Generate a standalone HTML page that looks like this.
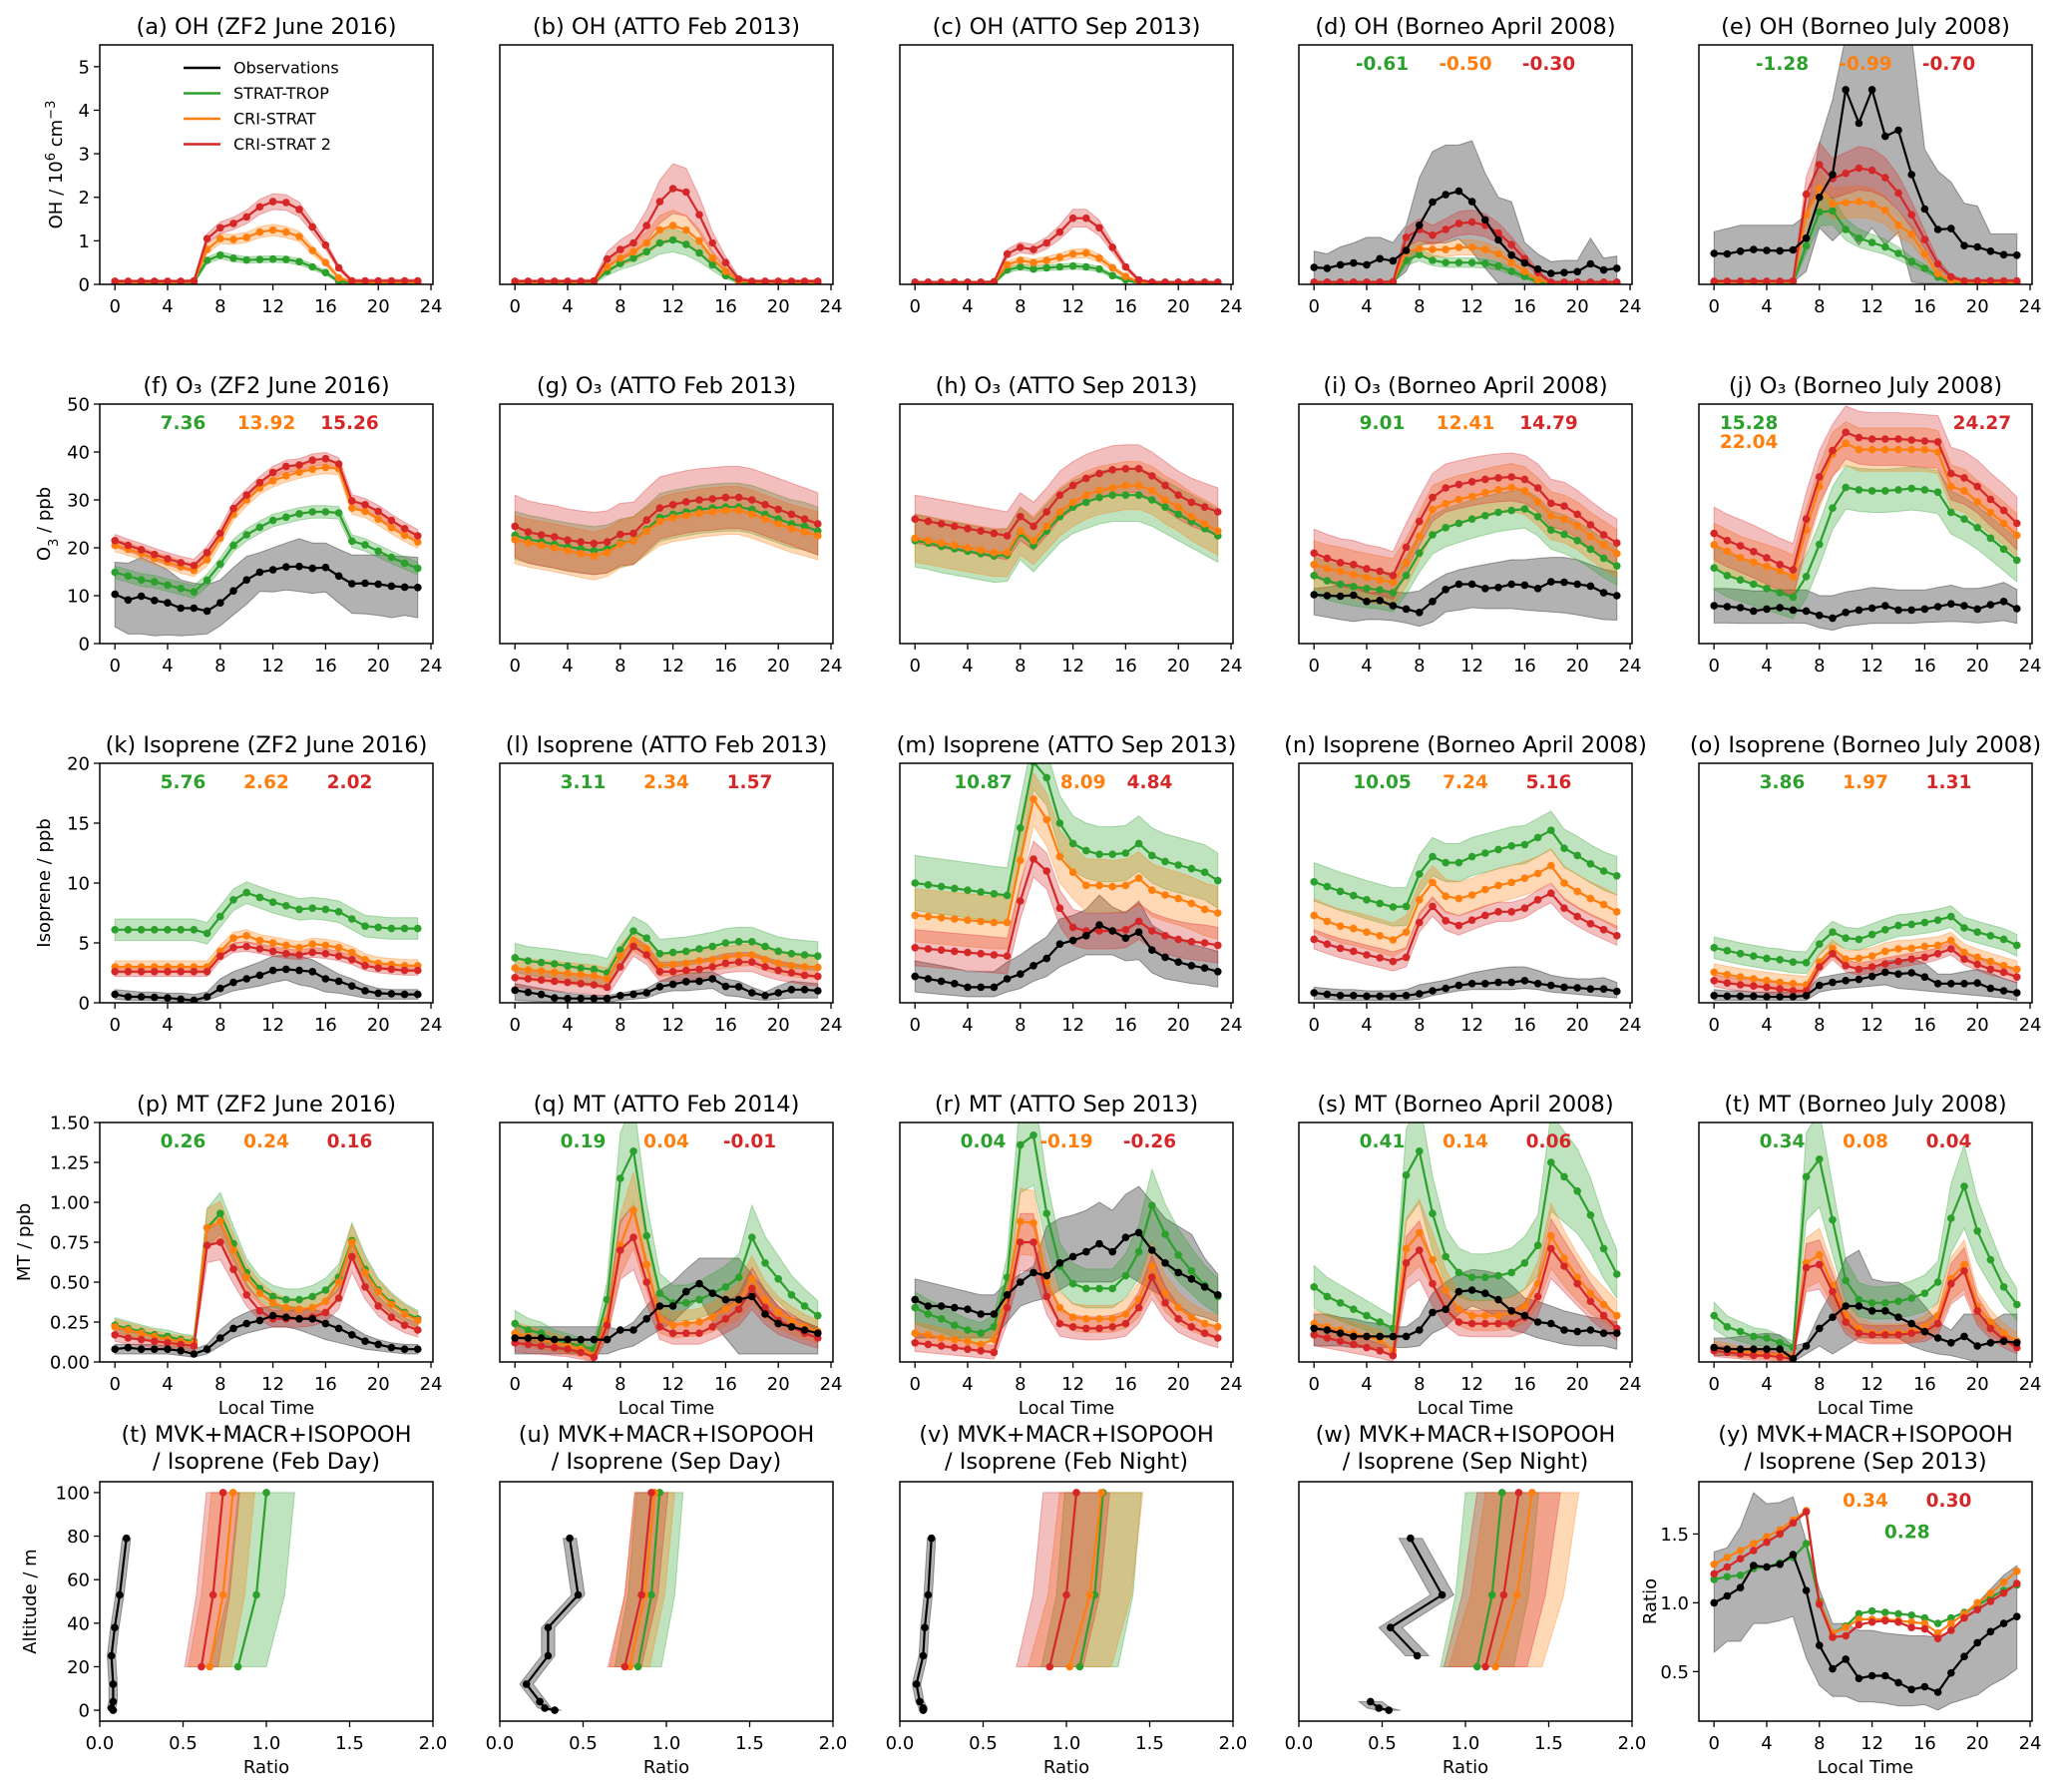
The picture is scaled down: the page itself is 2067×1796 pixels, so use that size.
<!DOCTYPE html>
<html><head><meta charset="utf-8"><title>Diurnal comparison panels</title>
<style>html,body{margin:0;padding:0;background:#fff}svg{display:block}text{font-family:"DejaVu Sans","Liberation Sans",sans-serif}</style>
</head><body>
<svg id="fig" width="2067" height="1796" viewBox="0 0 2067 1796" xmlns="http://www.w3.org/2000/svg"></svg>
<script>
// ---------- data ----------
const HOURS=[0,1,2,3,4,5,6,7,8,9,10,11,12,13,14,15,16,17,18,19,20,21,22,23];
const X_TICKS=[0,4,8,12,16,20,24];
const RATIO_TICKS=[0,0.5,1,1.5,2];
const OH_TICKS=[0,1,2,3,4,5];
const O3_TICKS=[0,10,20,30,40,50];
const ISO_TICKS=[0,5,10,15,20];
const MT_TICKS=[0,0.25,0.5,0.75,1,1.25,1.5];
const ALT_TICKS=[0,20,40,60,80,100];
const YRATIO_TICKS=[0.5,1,1.5];
// OH
const a_G=[0.04,0.04,0.04,0.04,0.04,0.04,0.05,0.55,0.67,0.6,0.56,0.57,0.58,0.57,0.52,0.4,0.27,0.07,0.03,0.03,0.03,0.03,0.03,0.03];
const a_O=[0.05,0.05,0.05,0.05,0.05,0.05,0.06,0.8,1.05,1.03,1.08,1.2,1.25,1.2,1.1,0.78,0.5,0.15,0.05,0.05,0.05,0.05,0.05,0.05];
const a_R=[0.07,0.07,0.07,0.07,0.07,0.07,0.08,1.05,1.3,1.4,1.55,1.78,1.9,1.88,1.72,1.32,0.9,0.38,0.08,0.08,0.08,0.08,0.08,0.08];
const b_G=[0.03,0.03,0.03,0.03,0.03,0.03,0.04,0.3,0.48,0.6,0.75,0.95,1.02,0.92,0.72,0.45,0.2,0.05,0.03,0.03,0.03,0.03,0.03,0.03];
const b_O=[0.05,0.05,0.05,0.05,0.05,0.05,0.06,0.4,0.6,0.75,0.95,1.25,1.35,1.25,1.0,0.6,0.3,0.08,0.05,0.05,0.05,0.05,0.05,0.05];
const b_R=[0.07,0.07,0.07,0.07,0.07,0.07,0.08,0.58,0.8,0.95,1.35,1.9,2.2,2.12,1.6,0.95,0.5,0.12,0.07,0.07,0.07,0.07,0.07,0.07];
const c_G=[0.02,0.02,0.02,0.02,0.02,0.02,0.03,0.33,0.4,0.35,0.38,0.4,0.42,0.4,0.35,0.2,0.1,0.03,0.02,0.02,0.02,0.02,0.02,0.02];
const c_O=[0.04,0.04,0.04,0.04,0.04,0.04,0.05,0.45,0.55,0.5,0.55,0.62,0.7,0.72,0.6,0.38,0.18,0.05,0.04,0.04,0.04,0.04,0.04,0.04];
const c_R=[0.05,0.05,0.05,0.05,0.05,0.05,0.06,0.7,0.85,0.8,0.95,1.2,1.52,1.52,1.3,0.85,0.4,0.1,0.05,0.05,0.05,0.05,0.05,0.05];
const d_K=[0.39,0.37,0.45,0.49,0.45,0.59,0.54,0.78,1.36,1.89,2.06,2.14,1.9,1.48,1.02,0.67,0.49,0.35,0.25,0.27,0.29,0.47,0.33,0.37];
const d_KHi=[0.76,0.7,0.86,0.95,1.08,1.08,0.96,1.36,2.45,3.05,3.2,3.2,3.3,2.55,2.0,1.9,0.96,0.7,0.52,0.55,0.55,1.06,0.6,0.65];
const d_KLo=[0.02,0.02,0.02,0.02,0.02,0.02,0.05,0.3,0.9,0.95,0.95,1.05,0.75,0.37,0.02,0.02,0.02,0.02,0.02,0.02,0.02,0.02,0.02,0.02];
const d_G=[0.02,0.02,0.02,0.02,0.02,0.02,0.03,0.55,0.68,0.55,0.5,0.5,0.5,0.48,0.42,0.3,0.18,0.05,0.02,0.02,0.02,0.02,0.02,0.02];
const d_O=[0.04,0.04,0.04,0.04,0.04,0.04,0.05,0.75,0.82,0.8,0.8,0.85,0.85,0.8,0.7,0.5,0.3,0.1,0.04,0.04,0.04,0.04,0.04,0.04];
const d_R=[0.05,0.05,0.05,0.05,0.05,0.05,0.06,1.08,1.26,1.13,1.26,1.4,1.43,1.36,1.18,0.91,0.59,0.27,0.05,0.05,0.05,0.05,0.05,0.05];
const e_K=[0.71,0.7,0.76,0.8,0.78,0.77,0.79,1.06,2.0,2.52,4.47,3.7,4.47,3.4,3.54,2.52,1.73,1.26,1.28,0.89,0.86,0.76,0.68,0.67];
const e_KHi=[1.21,1.28,1.36,1.36,1.36,1.36,1.36,1.59,3.25,4.24,5.7,5.7,5.7,5.7,5.7,5.7,3.1,2.6,2.35,1.86,1.8,1.16,1.16,1.16];
const e_KLo=[0.05,0.05,0.05,0.05,0.05,0.05,0.05,0.3,1.3,1.0,1.3,0.9,1.3,0.9,1.2,0.05,0.02,0.02,0.02,0.02,0.02,0.02,0.02,0.02];
const e_G=[0.03,0.03,0.03,0.03,0.03,0.03,0.04,0.88,1.66,1.69,1.26,1.06,0.96,0.86,0.71,0.52,0.37,0.17,0.03,0.03,0.03,0.03,0.03,0.03];
const e_O=[0.05,0.05,0.05,0.05,0.05,0.05,0.06,1.6,2.2,1.85,1.88,1.9,1.85,1.7,1.36,1.15,0.7,0.25,0.08,0.05,0.05,0.05,0.05,0.05];
const e_R=[0.07,0.07,0.07,0.07,0.07,0.07,0.08,2.07,2.75,2.43,2.55,2.67,2.62,2.45,2.1,1.6,1.03,0.47,0.17,0.08,0.08,0.08,0.08,0.08];
// O3
const f_K=[10.3,9.1,9.9,9.0,8.5,7.4,7.4,6.8,8.5,11,13.3,14.9,15.4,16,16.1,15.7,15.9,14.1,12.5,12.6,12.4,12.0,11.8,11.7];
const f_KHi=[17,16.8,18,16.8,15.4,13.3,12.6,12.3,13.3,15.9,18.2,19,20,21,21.9,21,21,19.7,18.5,18.5,18.5,18.3,18.2,18];
const f_KLo=[3.5,2,2,1.6,1.8,1.6,1.8,2,3.7,6,8.2,10.9,10.8,11.2,10.9,10.5,10.8,8.5,6.3,6.2,5.9,5.4,5.9,5.4];
const f_G=[14.9,14.1,13.3,12.9,12.2,11.5,10.8,13.2,16.6,20.5,22.7,24.3,25.7,26.4,27.1,27.5,27.5,27.3,21.4,20.6,19.3,18,16.8,15.7];
const f_O=[20.5,19.7,18.8,17.8,17,16,15.3,17.5,22,27,30,32.5,34,35,35.8,36.4,36.8,36.5,28.3,27.6,26,24.2,22.6,21.2];
const f_R=[21.5,20.5,19.6,18.6,17.7,16.9,16.3,19,23,28.2,31,33.6,35.7,37,37.3,38.3,38.6,37.5,29.8,29,27.6,25.7,24,22.5];
const g_G=[22.6,21.8,21.3,20.7,20.2,19.8,19.4,19.8,21,21.5,23.8,26.3,27,27.5,28,28.3,28.5,28.5,28,27,26,25,24.5,23.5];
const g_O=[21.7,21,20.5,20,19.4,18.8,18.3,19,20.8,21.5,23.5,25.5,26.3,26.7,27.2,27.5,27.8,27.8,27,26,25,24,23.3,22.5];
const g_R=[24.5,23.3,22.7,22.3,21.6,21.2,20.9,21.2,22.8,23,25.8,28.3,29,29.6,30,30.2,30.5,30.5,30,29,28,27,26,25];
const h_G=[21.5,21,20.3,19.8,19.3,18.8,18.3,18.5,23,20.5,23.5,26.5,28.5,29.5,30.5,31,31,31,30,28.5,27,25.5,24,22.5];
const h_O=[22,21.5,21,20.5,20,19.5,19,19,23.5,21.5,24.5,27.5,29.5,31,32,32.5,33,33,32,30,28.5,26.5,25,23.5];
const h_R=[26,25.5,25,24.5,24,23.5,23,22.5,26.5,24.5,27.5,31,33,34.5,35.5,36.3,36.5,36.5,35,33,31,29.5,28.5,27.5];
const i_K=[10.2,10.0,9.9,10.1,8.8,9.0,7.9,7.2,6.5,8.8,11.3,12.4,12.4,11.5,11.7,12.4,12.2,11.5,12.9,12.8,12.4,12.0,10.6,10.0];
const i_KHi=[11.5,11.8,12.2,12.5,10.6,10.8,10.8,10.6,11,12.9,14.5,15.4,16,16.5,17,17.5,17.5,17.8,18,18,17.5,16.5,15.5,15];
const i_KLo=[6,5.5,5,4.6,5,5,4.8,4.3,3.6,4.5,6.6,7,7.5,7.3,7.3,7.3,7,6.8,6.6,6.4,6,5.5,5,4.9];
const i_G=[14.2,13.1,12.4,11.9,11.5,11.2,10.6,14.2,18.9,22.7,24.2,25.1,26.0,26.7,27.4,27.8,28.1,26.5,23.7,22.8,21.5,19.7,17.8,16.2];
const i_O=[16.5,15.6,15.1,14.4,13.8,13.3,12.8,16.9,22.4,28.0,29.2,30.1,30.7,31.5,32.1,32.6,31.9,29.6,26.7,26.0,24.6,22.4,20.6,18.8];
const i_R=[18.9,17.8,16.9,16.5,15.6,15.1,14.2,20.1,25.5,30.5,32.5,33.2,33.8,34.3,34.6,34.8,34.3,32.5,29.3,28.7,27.0,24.8,22.7,21.0];
const j_K=[7.9,7.7,7.5,6.8,7.2,7.5,7.0,6.8,5.9,5.3,6.5,7.0,7.4,7.9,7.0,7.0,7.2,7.7,8.3,7.9,7.2,8.1,8.8,7.3];
const j_KHi=[11.5,11.5,11.3,11,11,11.2,11.2,11.2,10,10,10.8,11.2,11.7,11.5,11.2,11.2,11.2,11.7,12.2,11.5,11.5,12,12.8,11.3];
const j_KLo=[4.3,4.3,4.2,4.2,4.2,4.2,4.3,4.2,3.3,2.8,3.6,3.9,4.2,4.2,4.2,4.2,4.4,4.5,4.6,4.5,4.3,4.5,4.8,4.2];
const j_G=[15.8,14.2,13.3,12.4,11.5,10.6,9.7,14.0,20.7,28.3,32.6,32.1,31.9,31.9,32.1,32.4,32.1,31.6,27.4,26.0,24.2,22.0,19.7,17.4];
const j_O=[20.6,19.3,17.9,17.0,16.1,15.2,14.0,23.7,32.8,39.6,41.8,40.5,40.5,40.5,40.5,40.5,40.5,40.0,32.8,31.9,29.6,27.4,25.1,22.6];
const j_R=[23.0,21.5,20.4,19.2,17.9,16.5,15.4,26.0,34.8,40.3,44.1,43.0,42.7,42.7,42.7,42.5,42.3,42.1,35.5,34.6,32.8,30.1,27.8,25.1];
// Isoprene
const k_K=[0.7,0.5,0.5,0.45,0.4,0.3,0.2,0.5,1.2,1.7,2.0,2.3,2.7,2.8,2.7,2.6,2.0,1.8,1.4,1.0,0.8,0.75,0.7,0.7];
const k_KHi=[1.1,1.0,0.9,0.9,0.8,0.8,0.7,0.9,2.0,2.6,3.0,3.4,3.9,4.0,3.9,3.6,3.0,2.4,2.0,1.5,1.2,1.1,1.1,1.1];
const k_KLo=[0.3,0.2,0.2,0.2,0.1,0.1,0.05,0.2,0.6,1.0,1.2,1.4,1.7,1.9,1.5,1.3,0.9,0.8,0.6,0.4,0.3,0.3,0.3,0.3];
const k_G=[6.1,6.1,6.1,6.1,6.1,6.1,6.1,5.8,7.2,8.6,9.2,8.8,8.4,8.1,7.8,7.9,7.8,7.6,7.0,6.4,6.3,6.2,6.2,6.2];
const k_O=[3.0,3.0,3.0,3.0,3.0,3.0,3.0,3.0,4.3,5.4,5.6,5.2,5.0,4.8,4.6,4.9,4.8,4.6,4.2,3.6,3.3,3.2,3.1,3.1];
const k_R=[2.6,2.6,2.6,2.6,2.6,2.6,2.6,2.6,3.9,4.6,4.7,4.5,4.3,4.1,4.0,4.2,4.1,3.9,3.6,3.1,2.9,2.8,2.7,2.7];
const l_K=[1.05,0.87,0.69,0.4,0.36,0.36,0.36,0.36,0.6,0.72,0.83,1.34,1.55,1.77,1.8,2.0,1.37,1.34,0.83,0.6,0.83,1.1,1.1,1.0];
const l_KHi=[1.6,1.4,1.2,1.0,0.8,0.7,0.6,0.6,0.8,1.0,1.2,1.8,2.2,2.5,2.5,2.6,2.0,1.8,1.3,0.9,1.4,1.8,1.7,1.6];
const l_KLo=[0.2,0.15,0.1,0.05,0.05,0.05,0.05,0.05,0.2,0.3,0.4,0.8,1.0,1.0,1.1,1.2,0.6,0.5,0.3,0.2,0.3,0.4,0.4,0.4];
const l_G=[3.76,3.5,3.36,3.25,3.07,2.89,2.78,2.5,4.4,6.0,5.4,4.1,4.2,4.3,4.5,4.7,5.0,5.1,5.1,4.7,4.3,4.1,4.0,3.9];
const l_O=[2.9,2.75,2.65,2.55,2.45,2.35,2.25,2.0,3.9,5.2,4.5,3.1,3.2,3.3,3.5,3.6,3.8,3.95,4.0,3.6,3.3,3.1,3.0,2.95];
const l_R=[2.1,2.0,1.9,1.8,1.7,1.6,1.5,1.3,3.0,4.7,4.0,2.6,2.6,2.7,2.8,3.0,3.3,3.4,3.4,3.0,2.7,2.5,2.3,2.2];
const m_K=[2.2,2.0,1.8,1.6,1.3,1.3,1.3,2.0,2.4,3.1,3.7,4.9,5.2,5.6,6.5,6.0,5.4,5.9,4.4,3.8,3.4,3.1,2.9,2.6];
const m_KHi=[3.5,3.3,3.1,2.9,2.6,2.6,2.6,3.4,4.0,4.8,5.5,7.0,7.3,7.8,9.0,8.0,7.5,8.5,6.5,5.8,5.3,4.9,4.6,4.3];
const m_KLo=[0.9,0.8,0.7,0.6,0.5,0.5,0.5,0.9,1.2,1.8,2.2,3.0,3.5,4.0,4.0,4.0,3.5,3.6,2.5,2.0,1.8,1.6,1.5,1.3];
const m_G=[10.0,9.85,9.7,9.55,9.4,9.25,9.1,8.97,14.6,20.1,18.8,15.0,13.3,12.7,12.4,12.4,12.5,13.3,12.3,11.8,11.5,11.2,10.9,10.2];
const m_O=[7.3,7.2,7.1,7.0,6.9,6.8,6.7,6.7,11.9,17.0,15.3,12.2,10.9,9.8,9.8,9.7,9.8,10.4,9.4,9.0,8.7,8.3,7.8,7.5];
const m_R=[4.6,4.5,4.4,4.3,4.2,4.1,4.0,3.9,8.5,12.0,11.0,7.9,6.3,6.0,6.0,6.0,6.1,6.8,6.0,5.6,5.3,5.1,5.0,4.8];
const n_K=[0.83,0.7,0.6,0.6,0.55,0.55,0.55,0.6,0.75,1.0,1.2,1.45,1.6,1.6,1.7,1.7,1.85,1.6,1.45,1.3,1.25,1.15,1.15,0.95];
const n_KHi=[1.3,1.2,1.1,1.1,1.0,1.0,1.0,1.1,1.5,1.7,1.9,2.2,2.5,2.7,2.9,3.0,3.0,2.7,2.3,2.1,2.0,2.0,2.1,1.7];
const n_KLo=[0.3,0.3,0.2,0.2,0.2,0.2,0.2,0.2,0.3,0.6,0.8,1.0,1.1,1.1,1.1,1.1,1.2,1.1,0.9,0.8,0.7,0.6,0.5,0.4];
const n_G=[10.1,9.7,9.3,8.95,8.6,8.3,8.0,8.05,10.75,12.2,11.7,11.7,12.2,12.5,12.8,13.1,13.2,13.8,14.4,12.9,12.3,11.6,11.0,10.6];
const n_O=[7.3,6.8,6.4,6.2,5.9,5.6,5.25,5.9,8.6,10.05,8.9,8.7,9.0,9.45,9.8,10.05,10.4,10.8,11.45,10.0,9.3,8.7,8.2,7.6];
const n_R=[5.3,4.9,4.55,4.3,4.0,3.75,3.45,3.8,6.7,8.05,6.85,6.45,6.9,7.3,7.6,7.6,7.9,8.6,9.15,7.9,7.2,6.6,6.1,5.6];
const o_K=[0.6,0.55,0.55,0.55,0.5,0.5,0.5,0.6,1.45,1.7,1.85,1.95,2.2,2.55,2.4,2.5,2.15,1.6,1.6,1.6,1.65,1.2,1.0,0.83];
const o_KHi=[1.1,1.0,1.0,0.9,0.9,0.9,0.9,1.0,2.1,2.3,2.5,2.6,2.9,3.5,3.6,3.7,3.3,2.4,2.4,2.6,2.8,2.5,2.0,1.7];
const o_KLo=[0.2,0.2,0.2,0.2,0.2,0.2,0.2,0.2,0.9,1.1,1.2,1.3,1.4,1.5,1.2,1.1,1.0,0.9,0.8,0.7,0.6,0.5,0.4,0.2];
const o_G=[4.6,4.35,4.1,3.9,3.7,3.6,3.4,3.35,4.9,5.9,5.4,5.3,5.7,6.1,6.45,6.55,6.7,6.9,7.2,6.25,5.9,5.6,5.3,4.8];
const o_O=[2.55,2.35,2.15,2.0,1.85,1.7,1.6,1.5,3.4,4.55,3.65,3.7,3.9,4.3,4.5,4.55,4.7,4.8,5.2,4.2,3.8,3.45,3.1,2.8];
const o_R=[1.85,1.65,1.5,1.4,1.3,1.15,1.0,1.0,3.0,4.1,3.1,2.8,3.0,3.25,3.45,3.65,3.8,4.1,4.5,3.65,3.2,2.8,2.55,2.15];
// MT
const p_K=[0.08,0.09,0.08,0.08,0.08,0.07,0.05,0.08,0.15,0.21,0.24,0.26,0.29,0.28,0.27,0.27,0.24,0.21,0.17,0.13,0.11,0.09,0.08,0.08];
const p_KHi=[0.11,0.11,0.11,0.11,0.1,0.1,0.08,0.11,0.2,0.27,0.31,0.34,0.35,0.35,0.34,0.33,0.31,0.27,0.22,0.17,0.14,0.12,0.11,0.11];
const p_KLo=[0.05,0.05,0.05,0.05,0.05,0.04,0.03,0.05,0.1,0.15,0.18,0.2,0.22,0.22,0.2,0.17,0.14,0.12,0.1,0.08,0.07,0.06,0.05,0.05];
const p_G=[0.23,0.21,0.19,0.17,0.16,0.14,0.13,0.84,0.93,0.74,0.56,0.46,0.41,0.39,0.39,0.41,0.45,0.53,0.76,0.58,0.45,0.37,0.31,0.27];
const p_O=[0.22,0.2,0.18,0.16,0.14,0.13,0.12,0.84,0.88,0.7,0.53,0.43,0.37,0.34,0.33,0.34,0.38,0.5,0.75,0.56,0.44,0.36,0.3,0.26];
const p_R=[0.17,0.15,0.14,0.13,0.12,0.11,0.1,0.73,0.75,0.58,0.42,0.32,0.27,0.27,0.27,0.28,0.31,0.4,0.66,0.47,0.35,0.28,0.23,0.2];
const q_K=[0.15,0.15,0.15,0.14,0.14,0.14,0.14,0.14,0.2,0.2,0.27,0.35,0.35,0.44,0.49,0.43,0.39,0.39,0.41,0.3,0.24,0.22,0.2,0.18];
const q_KHi=[0.22,0.22,0.22,0.22,0.22,0.22,0.22,0.22,0.2,0.25,0.35,0.45,0.5,0.58,0.65,0.65,0.65,0.65,0.55,0.45,0.35,0.28,0.25,0.22];
const q_KLo=[0.05,0.05,0.05,0.05,0.05,0.05,0.05,0.05,0.08,0.1,0.15,0.2,0.25,0.33,0.4,0.25,0.15,0.05,0.05,0.05,0.05,0.05,0.05,0.05];
const q_G=[0.24,0.2,0.18,0.14,0.12,0.1,0.08,0.39,1.15,1.32,0.79,0.43,0.37,0.37,0.39,0.43,0.47,0.53,0.78,0.62,0.52,0.42,0.35,0.29];
const q_O=[0.18,0.16,0.14,0.12,0.1,0.08,0.04,0.26,0.73,0.95,0.61,0.27,0.23,0.24,0.25,0.28,0.33,0.38,0.52,0.39,0.31,0.26,0.22,0.19];
const q_R=[0.12,0.11,0.1,0.09,0.08,0.06,0.03,0.23,0.7,0.78,0.5,0.22,0.18,0.18,0.18,0.22,0.27,0.33,0.46,0.34,0.26,0.22,0.18,0.15];
const r_K=[0.39,0.35,0.35,0.34,0.33,0.3,0.3,0.42,0.5,0.56,0.54,0.62,0.66,0.69,0.74,0.69,0.78,0.81,0.7,0.62,0.56,0.52,0.47,0.42];
const r_KHi=[0.52,0.5,0.48,0.46,0.44,0.42,0.42,0.5,0.55,0.6,0.85,0.9,0.92,0.95,1.0,0.95,1.05,1.1,1.0,0.9,0.85,0.8,0.65,0.55];
const r_KLo=[0.15,0.15,0.15,0.15,0.15,0.15,0.15,0.25,0.35,0.38,0.4,0.45,0.5,0.5,0.5,0.5,0.55,0.5,0.45,0.4,0.35,0.3,0.28,0.25];
const r_G=[0.34,0.3,0.27,0.23,0.2,0.18,0.22,0.53,1.36,1.42,0.93,0.6,0.49,0.46,0.46,0.46,0.54,0.69,0.98,0.8,0.67,0.57,0.48,0.41];
const r_O=[0.18,0.17,0.15,0.14,0.13,0.11,0.14,0.42,0.88,0.87,0.5,0.34,0.28,0.27,0.27,0.27,0.3,0.39,0.6,0.43,0.34,0.28,0.24,0.22];
const r_R=[0.12,0.11,0.1,0.09,0.08,0.07,0.06,0.34,0.75,0.75,0.41,0.24,0.22,0.21,0.21,0.22,0.24,0.34,0.53,0.37,0.27,0.22,0.18,0.15];
const s_K=[0.21,0.2,0.18,0.16,0.16,0.16,0.16,0.16,0.2,0.31,0.33,0.44,0.45,0.43,0.39,0.32,0.29,0.25,0.24,0.2,0.19,0.2,0.18,0.18];
const s_KHi=[0.3,0.3,0.28,0.27,0.25,0.24,0.22,0.22,0.28,0.43,0.5,0.55,0.58,0.57,0.55,0.48,0.4,0.38,0.35,0.32,0.3,0.28,0.27,0.25];
const s_KLo=[0.1,0.1,0.1,0.09,0.09,0.09,0.09,0.09,0.1,0.18,0.22,0.3,0.35,0.32,0.28,0.2,0.18,0.15,0.13,0.11,0.1,0.1,0.1,0.08];
const s_G=[0.47,0.41,0.37,0.33,0.29,0.25,0.21,1.17,1.32,0.93,0.66,0.56,0.53,0.53,0.54,0.56,0.62,0.73,1.25,1.16,1.07,0.92,0.71,0.55];
const s_O=[0.24,0.22,0.2,0.18,0.16,0.14,0.07,0.71,0.81,0.64,0.45,0.33,0.29,0.29,0.29,0.31,0.35,0.49,0.79,0.65,0.53,0.43,0.36,0.29];
const s_R=[0.17,0.15,0.13,0.11,0.09,0.07,0.04,0.62,0.7,0.49,0.33,0.25,0.24,0.24,0.24,0.24,0.28,0.41,0.71,0.6,0.49,0.38,0.29,0.21];
const t_K=[0.09,0.08,0.08,0.08,0.08,0.08,0.02,0.1,0.21,0.28,0.35,0.35,0.32,0.32,0.28,0.24,0.19,0.15,0.12,0.16,0.1,0.12,0.13,0.12];
const t_KHi=[0.15,0.15,0.16,0.17,0.18,0.17,0.1,0.12,0.3,0.45,0.65,0.7,0.52,0.5,0.5,0.45,0.35,0.25,0.2,0.3,0.3,0.25,0.3,0.3];
const t_KLo=[0.04,0.04,0.04,0.04,0.04,0.04,0.0,0.05,0.1,0.05,0.1,0.15,0.15,0.15,0.15,0.1,0.07,0.05,0.04,0.02,0.0,0.0,0.0,0.0];
const t_G=[0.29,0.22,0.19,0.16,0.15,0.12,0.09,1.16,1.27,0.89,0.51,0.39,0.37,0.37,0.38,0.4,0.43,0.5,0.9,1.1,0.82,0.64,0.47,0.36];
const t_O=[0.09,0.08,0.06,0.06,0.05,0.04,0.03,0.62,0.67,0.48,0.29,0.21,0.18,0.18,0.18,0.19,0.22,0.29,0.52,0.61,0.35,0.25,0.18,0.13];
const t_R=[0.07,0.06,0.05,0.04,0.04,0.03,0.02,0.59,0.61,0.44,0.25,0.18,0.17,0.17,0.17,0.18,0.19,0.24,0.49,0.57,0.32,0.21,0.14,0.09];
// Ratio time series (y)
const y_K=[1.0,1.05,1.11,1.27,1.26,1.28,1.35,1.09,0.69,0.52,0.59,0.45,0.47,0.47,0.42,0.37,0.39,0.35,0.49,0.61,0.71,0.79,0.85,0.90];
const y_KHi=[1.37,1.40,1.55,1.80,1.72,1.73,1.77,1.45,1.10,0.85,0.85,0.80,0.80,0.78,0.77,0.76,0.76,0.75,0.80,0.90,1.00,1.10,1.20,1.27];
const y_KLo=[0.64,0.72,0.72,0.85,0.85,0.87,0.90,0.60,0.40,0.32,0.32,0.28,0.28,0.27,0.25,0.25,0.26,0.22,0.27,0.30,0.33,0.40,0.45,0.52];
const y_G=[1.17,1.19,1.20,1.25,1.26,1.29,1.33,1.43,1.01,0.78,0.83,0.92,0.94,0.93,0.92,0.91,0.89,0.85,0.89,0.93,0.98,1.04,1.09,1.13];
const y_O=[1.28,1.33,1.38,1.43,1.48,1.53,1.60,1.67,1.0,0.78,0.82,0.88,0.88,0.88,0.87,0.86,0.85,0.78,0.85,0.92,1.0,1.07,1.15,1.23];
const y_R=[1.21,1.26,1.32,1.38,1.44,1.50,1.58,1.66,0.99,0.75,0.76,0.84,0.86,0.87,0.86,0.82,0.81,0.74,0.80,0.89,0.95,1.01,1.07,1.14];
// Vertical profiles
const PROF_OBS_ALT=[79,53,38,25,12,4,1,0];
const PROF_MOD_ALT=[20,53,100];
const pt_K=[0.16,0.12,0.09,0.07,0.08,0.08,0.07,0.08];
const pt_G=[0.83,0.94,1.0], pt_O=[0.66,0.74,0.80], pt_R=[0.61,0.68,0.74];
const pu_K=[0.42,0.47,0.29,0.29,0.16,0.24,0.27,0.33];
const pu_G=[0.83,0.91,0.96], pu_O=[0.78,0.87,0.93], pu_R=[0.75,0.85,0.91];
const pv_K=[0.19,0.17,0.15,0.14,0.10,0.12,0.14,0.14];
const pv_G=[1.08,1.17,1.22], pv_O=[1.02,1.14,1.21], pv_R=[0.90,1.0,1.06];
const pw_K=[0.67,0.86,0.55,0.71,null,0.43,0.48,0.54];
const pw_G=[1.07,1.16,1.22], pw_O=[1.18,1.31,1.40], pw_R=[1.12,1.23,1.32];

// ---------- layout ----------
const SVGNS="http://www.w3.org/2000/svg";
const svg=document.getElementById('fig');
const COLS=[100,501,902,1302,1703], ROWS=[45,405,765,1125,1485], W=334, H=240;
const XMIN=-1.15, XMAX=24.15;
const CG='#2ca02c', CO='#ff7f0e', CR='#d62728', CK='#000000';
const FONT='"DejaVu Sans","Liberation Sans",sans-serif';
function mk(tag, attrs, parent){const e=document.createElementNS(SVGNS,tag);for(const k in attrs)e.setAttribute(k,attrs[k]);(parent||svg).appendChild(e);return e;}
function txt(s, attrs, parent){const e=mk('text',Object.assign({'font-family':FONT},attrs),parent);e.textContent=s;return e;}

const TIME_PANELS=[
 {id:'a',r:0,c:0,title:'(a) OH (ZF2 June 2016)',ylim:[0,5.5],G:a_G,O:a_O,R:a_R,band:[0.03,0.08],ann:[]},
 {id:'b',r:0,c:1,title:'(b) OH (ATTO Feb 2013)',ylim:[0,5.5],G:b_G,O:b_O,R:b_R,band:[0.02,0.25],ann:[]},
 {id:'c',r:0,c:2,title:'(c) OH (ATTO Sep 2013)',ylim:[0,5.5],G:c_G,O:c_O,R:c_R,band:[0.02,0.12],ann:[]},
 {id:'d',r:0,c:3,title:'(d) OH (Borneo April 2008)',ylim:[0,5.5],K:d_K,KHi:d_KHi,KLo:d_KLo,G:d_G,O:d_O,R:d_R,band:[0.02,0.18],ann:[['-0.61',CG,.25,0],['-0.50',CO,.5,0],['-0.30',CR,.75,0]]},
 {id:'e',r:0,c:4,title:'(e) OH (Borneo July 2008)',ylim:[0,5.5],K:e_K,KHi:e_KHi,KLo:e_KLo,G:e_G,O:e_O,R:e_R,band:[0.02,0.18],ann:[['-1.28',CG,.25,0],['-0.99',CO,.5,0],['-0.70',CR,.75,0]]},
 {id:'f',r:1,c:0,title:'(f) O₃ (ZF2 June 2016)',ylim:[0,50],K:f_K,KHi:f_KHi,KLo:f_KLo,G:f_G,O:f_O,R:f_R,band:[1.3,0],ann:[['7.36',CG,.25,0],['13.92',CO,.5,0],['15.26',CR,.75,0]]},
 {id:'g',r:1,c:1,title:'(g) O₃ (ATTO Feb 2013)',ylim:[0,50],G:g_G,O:g_O,R:g_R,bandG:5,bandO:5,bandR:6.5,ann:[]},
 {id:'h',r:1,c:2,title:'(h) O₃ (ATTO Sep 2013)',ylim:[0,50],G:h_G,O:h_O,R:h_R,bandG:5.5,bandO:5,bandR:5,ann:[]},
 {id:'i',r:1,c:3,title:'(i) O₃ (Borneo April 2008)',ylim:[0,50],K:i_K,KHi:i_KHi,KLo:i_KLo,G:i_G,O:i_O,R:i_R,bandG:4,bandO:5,bandR:5,ann:[['9.01',CG,.25,0],['12.41',CO,.5,0],['14.79',CR,.75,0]]},
 {id:'j',r:1,c:4,title:'(j) O₃ (Borneo July 2008)',ylim:[0,50],K:j_K,KHi:j_KHi,KLo:j_KLo,G:j_G,O:j_O,R:j_R,bandG:4.5,bandO:4.5,bandR:5.5,ann:[['15.28',CG,.15,0],['22.04',CO,.15,1],['24.27',CR,.85,0]]},
 {id:'k',r:2,c:0,title:'(k) Isoprene (ZF2 June 2016)',ylim:[0,20],K:k_K,KHi:k_KHi,KLo:k_KLo,G:k_G,O:k_O,R:k_R,bandG:0.9,bandO:0.5,bandR:0.4,ann:[['5.76',CG,.25,0],['2.62',CO,.5,0],['2.02',CR,.75,0]]},
 {id:'l',r:2,c:1,title:'(l) Isoprene (ATTO Feb 2013)',ylim:[0,20],K:l_K,KHi:l_KHi,KLo:l_KLo,G:l_G,O:l_O,R:l_R,bandG:1.2,bandO:0.9,bandR:0.8,ann:[['3.11',CG,.25,0],['2.34',CO,.5,0],['1.57',CR,.75,0]]},
 {id:'m',r:2,c:2,title:'(m) Isoprene (ATTO Sep 2013)',ylim:[0,20],K:m_K,KHi:m_KHi,KLo:m_KLo,G:m_G,O:m_O,R:m_R,bandG:2.3,bandO:2.2,bandR:1.5,ann:[['10.87',CG,.25,0],['8.09',CO,.55,0],['4.84',CR,.75,0]]},
 {id:'n',r:2,c:3,title:'(n) Isoprene (Borneo April 2008)',ylim:[0,20],K:n_K,KHi:n_KHi,KLo:n_KLo,G:n_G,O:n_O,R:n_R,bandG:1.6,bandO:1.4,bandR:0.8,ann:[['10.05',CG,.25,0],['7.24',CO,.5,0],['5.16',CR,.75,0]]},
 {id:'o',r:2,c:4,title:'(o) Isoprene (Borneo July 2008)',ylim:[0,20],K:o_K,KHi:o_KHi,KLo:o_KLo,G:o_G,O:o_O,R:o_R,bandG:0.9,bandO:0.7,bandR:0.5,ann:[['3.86',CG,.25,0],['1.97',CO,.5,0],['1.31',CR,.75,0]]},
 {id:'p',r:3,c:0,title:'(p) MT (ZF2 June 2016)',ylim:[0,1.5],K:p_K,KHi:p_KHi,KLo:p_KLo,G:p_G,O:p_O,R:p_R,band:[0.02,0.12],ann:[['0.26',CG,.25,0],['0.24',CO,.5,0],['0.16',CR,.75,0]]},
 {id:'q',r:3,c:1,title:'(q) MT (ATTO Feb 2014)',ylim:[0,1.5],K:q_K,KHi:q_KHi,KLo:q_KLo,G:q_G,O:q_O,R:q_R,band:[0.03,0.22],ann:[['0.19',CG,.25,0],['0.04',CO,.5,0],['-0.01',CR,.75,0]]},
 {id:'r',r:3,c:2,title:'(r) MT (ATTO Sep 2013)',ylim:[0,1.5],K:r_K,KHi:r_KHi,KLo:r_KLo,G:r_G,O:r_O,R:r_R,band:[0.03,0.2],ann:[['0.04',CG,.25,0],['-0.19',CO,.5,0],['-0.26',CR,.75,0]]},
 {id:'s',r:3,c:3,title:'(s) MT (Borneo April 2008)',ylim:[0,1.5],K:s_K,KHi:s_KHi,KLo:s_KLo,G:s_G,O:s_O,R:s_R,band:[0.03,0.22],ann:[['0.41',CG,.25,0],['0.14',CO,.5,0],['0.06',CR,.75,0]]},
 {id:'t',r:3,c:4,title:'(t) MT (Borneo July 2008)',ylim:[0,1.5],K:t_K,KHi:t_KHi,KLo:t_KLo,G:t_G,O:t_O,R:t_R,band:[0.02,0.22],ann:[['0.34',CG,.25,0],['0.08',CO,.5,0],['0.04',CR,.75,0]]},
 {id:'y',r:4,c:4,title:['(y) MVK+MACR+ISOPOOH','/ Isoprene (Sep 2013)'],ylim:[0.14,1.88],K:y_K,KHi:y_KHi,KLo:y_KLo,G:y_G,O:y_O,R:y_R,noBand:true,ann:[['0.34',CO,.5,0],['0.30',CR,.75,0],['0.28',CG,.625,1.65]]}
];
const PROF_PANELS=[
 {id:'t2',c:0,title:['(t) MVK+MACR+ISOPOOH','/ Isoprene (Feb Day)'],K:pt_K,G:pt_G,O:pt_O,R:pt_R,bG:0.17,bO:0.13,bR:0.1,bK:0.025},
 {id:'u',c:1,title:['(u) MVK+MACR+ISOPOOH','/ Isoprene (Sep Day)'],K:pu_K,G:pu_G,O:pu_O,R:pu_R,bG:0.14,bO:0.12,bR:0.1,bK:0.04},
 {id:'v',c:2,title:['(v) MVK+MACR+ISOPOOH','/ Isoprene (Feb Night)'],K:pv_K,G:pv_G,O:pv_O,R:pv_R,bG:0.23,bO:0.25,bR:0.2,bK:0.025},
 {id:'w',c:3,title:['(w) MVK+MACR+ISOPOOH','/ Isoprene (Sep Night)'],K:pw_K,G:pw_G,O:pw_O,R:pw_R,bG:0.22,bO:0.28,bR:0.25,bK:0.07}
];

let clipN=0;
function frame(L,T,name){
  const f=mk('rect',{x:L,y:T,width:W,height:H,fill:'none',stroke:'#000','stroke-width':1.5});
  
  
}
function clipFor(L,T){
  const id='clip'+(clipN++);
  const cp=mk('clipPath',{id:id});
  mk('rect',{x:L,y:T,width:W,height:H},cp);
  return id;
}
function title(lines,L,T,name){
  const arr=Array.isArray(lines)?lines:[lines];
  arr.forEach((s,i)=>{
    const yy= arr.length===1 ? T-11 : T-40+i*27;
    const t=txt(s,{x:L+W/2,y:yy,'text-anchor':'middle','font-size':22.5});
    
    
  });
}
function xTicks(L,T,sx,ticks,fmt,name){
  ticks.forEach(v=>{
    const x=sx(v);
    const tk=mk('line',{x1:x,x2:x,y1:T+H,y2:T+H+6,stroke:'#000','stroke-width':1.3});
    
    
    const lb=txt(fmt(v),{x:x,y:T+H+28,'text-anchor':'middle','font-size':18});
    
    
  });
}
function yTicks(L,T,sy,ticks,fmt,name){
  ticks.forEach(v=>{
    const y=sy(v);
    const tk=mk('line',{x1:L-6,x2:L,y1:y,y2:y,stroke:'#000','stroke-width':1.3});
    
    
    const lb=txt(fmt(v),{x:L-10,y:y+6.5,'text-anchor':'end','font-size':18});
    
    
  });
}
function bandPoly(g,upper,lower,color,name){
  const pts=upper.concat(lower.slice().reverse()).map(p=>p[0].toFixed(1)+','+p[1].toFixed(1)).join(' ');
  const pg=mk('polygon',{points:pts,fill:color,'fill-opacity':0.3,stroke:color,'stroke-opacity':0.35,'stroke-width':1},g);
  
  
}
function seriesLine(g,pts,color,name){
  let segs=[[]];
  pts.forEach(p=>{ if(p===null){ if(segs[segs.length-1].length) segs.push([]); } else segs[segs.length-1].push(p); });
  segs.filter(s=>s.length).forEach(s=>{
    const pl=mk('polyline',{points:s.map(p=>p[0].toFixed(1)+','+p[1].toFixed(1)).join(' '),fill:'none',stroke:color,'stroke-width':2.2,'stroke-linejoin':'round'},g);
    
    
  });
  pts.forEach(p=>{ if(p===null) return;
    const c=mk('circle',{cx:p[0].toFixed(1),cy:p[1].toFixed(1),r:3.8,fill:color},g);
    
    
  });
}

function drawTime(p){
  const L=COLS[p.c], T=ROWS[p.r];
  const [y0,y1]=p.ylim;
  const sx=v=>L+(v-XMIN)/(XMAX-XMIN)*W;
  const sy=v=>T+H-(v-y0)/(y1-y0)*H;
  const g=mk('g',{'clip-path':'url(#'+clipFor(L,T)+')'});
  
  
  if(p.K){
    bandPoly(g,HOURS.map((h,i)=>[sx(h),sy(p.KHi[i])]),HOURS.map((h,i)=>[sx(h),sy(p.KLo[i])]),'#000','obs-range-band');
  }
  if(!p.noBand){
    [['G',CG,p.bandG],['O',CO,p.bandO],['R',CR,p.bandR]].forEach(([k,col,bw])=>{
      const vals=p[k];
      const hw=v=> bw!==undefined ? bw : (p.band[0]+p.band[1]*v);
      bandPoly(g,HOURS.map((h,i)=>[sx(h),sy(vals[i]+hw(vals[i]))]),HOURS.map((h,i)=>[sx(h),sy(Math.max(0,vals[i]-hw(vals[i])))]),col,'model-band-'+k);
    });
  }
  seriesLine(g,HOURS.map((h,i)=>[sx(h),sy(p.G[i])]),CG,'strat-trop');
  seriesLine(g,HOURS.map((h,i)=>[sx(h),sy(p.O[i])]),CO,'cri-strat');
  seriesLine(g,HOURS.map((h,i)=>[sx(h),sy(p.R[i])]),CR,'cri-strat-2');
  if(p.K) seriesLine(g,HOURS.map((h,i)=>[sx(h),sy(p.K[i])]),CK,'observations');
  frame(L,T,'panel-'+p.id);
  title(p.title,L,T,'panel-'+p.id);
  xTicks(L,T,sx,X_TICKS,v=>String(v),'panel-'+p.id);
  const yt=[OH_TICKS,O3_TICKS,ISO_TICKS,MT_TICKS][p.r];
  if(p.c===0) yTicks(L,T,sy,yt,v=>p.r===3?v.toFixed(2):String(v),'panel-'+p.id);
  if(p.id==='y') yTicks(L,T,sy,YRATIO_TICKS,v=>v.toFixed(1),'panel-y');
  p.ann.forEach(a=>{
    const t=txt(a[0],{x:L+a[2]*W,y:T+25+a[3]*19,'text-anchor':'middle','font-size':18.5,'font-weight':'bold',fill:a[1]});
    
    
  });
  if(p.r===3||p.id==='y'){
    const lt=txt('Local Time',{x:L+W/2,y:T+H+52,'text-anchor':'middle','font-size':18});
    
    
  }
}

function drawProf(p){
  const L=COLS[p.c], T=ROWS[4];
  const sx=v=>L+(v-0)/2*W;
  const sy=v=>T+H-(v+5)/110*H;
  const g=mk('g',{'clip-path':'url(#'+clipFor(L,T)+')'});
  
  
  let run=[];
  const flushRun=()=>{ if(run.length>1) bandPoly(g,run.map(i=>[sx(p.K[i]+p.bK),sy(PROF_OBS_ALT[i])]),run.map(i=>[sx(p.K[i]-p.bK),sy(PROF_OBS_ALT[i])]),'#000','obs-range-band'); run=[]; };
  PROF_OBS_ALT.forEach((a,i)=>{ if(p.K[i]===null) flushRun(); else run.push(i); }); flushRun();
  [['G',CG,p.bG],['O',CO,p.bO],['R',CR,p.bR]].forEach(([k,col,bw])=>{
    bandPoly(g,PROF_MOD_ALT.map((a,i)=>[sx(p[k][i]+bw),sy(a)]),PROF_MOD_ALT.map((a,i)=>[sx(p[k][i]-bw),sy(a)]),col,'model-band-'+k);
  });
  seriesLine(g,PROF_MOD_ALT.map((a,i)=>[sx(p.G[i]),sy(a)]),CG,'strat-trop');
  seriesLine(g,PROF_MOD_ALT.map((a,i)=>[sx(p.O[i]),sy(a)]),CO,'cri-strat');
  seriesLine(g,PROF_MOD_ALT.map((a,i)=>[sx(p.R[i]),sy(a)]),CR,'cri-strat-2');
  seriesLine(g,PROF_OBS_ALT.map((a,i)=>p.K[i]===null?null:[sx(p.K[i]),sy(a)]),CK,'observations');
  frame(L,T,'profile-panel-'+p.id);
  title(p.title,L,T,'profile-panel-'+p.id);
  xTicks(L,T,sx,RATIO_TICKS,v=>v.toFixed(1),'profile-panel-'+p.id);
  if(p.c===0) yTicks(L,T,sy,ALT_TICKS,v=>String(v),'profile-panel-'+p.id);
  const xt=txt('Ratio',{x:L+W/2,y:T+H+52,'text-anchor':'middle','font-size':18});
  
  
}

TIME_PANELS.forEach(drawTime);
PROF_PANELS.forEach(drawProf);

function yTitle(s,x,yc,name,parts){
  const t=mk('text',{x:0,y:0,'text-anchor':'middle','font-size':18,'font-family':FONT,transform:'translate('+x+','+yc+') rotate(-90)'});
  parts.forEach(pt=>{ const ts=mk('tspan',pt[1]?{'baseline-shift':pt[1],'font-size':13}:{},t); ts.textContent=pt[0]; });
  
  
}
yTitle('',62,ROWS[0]+H/2,'oh-y-axis-title',[['OH / 10'],['6','super'],[' cm'],['−3','super']]);
yTitle('',50,ROWS[1]+H/2,'o3-y-axis-title',[['O'],['3','sub'],[' / ppb']]);
yTitle('',50,ROWS[2]+H/2,'isoprene-y-axis-title',[['Isoprene / ppb']]);
yTitle('',30,ROWS[3]+H/2,'mt-y-axis-title',[['MT / ppb']]);
yTitle('',36,ROWS[4]+H/2,'altitude-y-axis-title',[['Altitude / m']]);
yTitle('',1660,ROWS[4]+H/2,'ratio-y-axis-title',[['Ratio']]);

const LEG=[['Observations',CK],['STRAT-TROP',CG],['CRI-STRAT',CO],['CRI-STRAT 2',CR]];
LEG.forEach((e,i)=>{
  const y=ROWS[0]+23+i*25.5;
  const ln=mk('line',{x1:184,x2:221,y1:y,y2:y,stroke:e[1],'stroke-width':2.5});
  
  
  const t=txt(e[0],{x:234,y:y+5.5,'font-size':16});
  
  
});
</script>
</body></html>
